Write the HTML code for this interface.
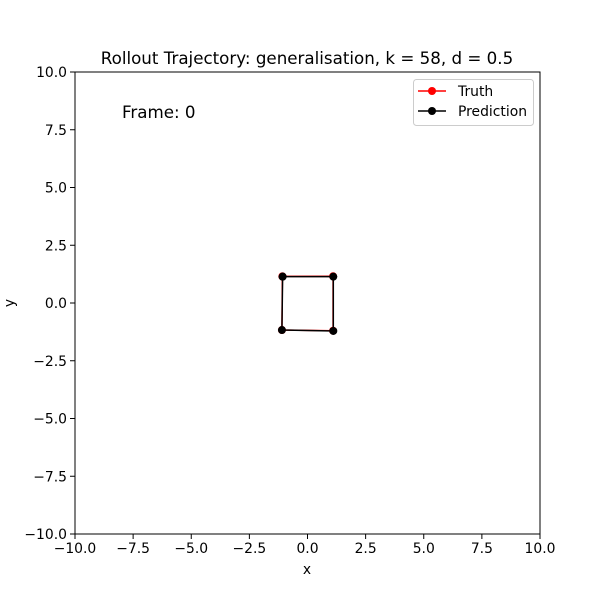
<!DOCTYPE html>
<html><head><meta charset="utf-8"><style>
body{margin:0;background:#fff;font-family:"DejaVu Sans","Liberation Sans",sans-serif;}
svg text{font-family:"DejaVu Sans","Liberation Sans",sans-serif;}
</style></head><body>
<svg id="chart" width="600" height="600" xmlns="http://www.w3.org/2000/svg"></svg>
<script>
const truthX=[-1.08,1.1,1.1,-1.1,-1.08];
const truthY=[1.15,1.16,-1.2,-1.17,1.15];
const predX=[-1.07,1.11,1.11,-1.1,-1.07];
const predY=[1.14,1.14,-1.21,-1.17,1.14];
const ticks=[-10,-7.5,-5,-2.5,0,2.5,5,7.5,10];
const tickLabels=["\u221210.0","\u22127.5","\u22125.0","\u22122.5","0.0","2.5","5.0","7.5","10.0"];
const L=75,R=540,T=72,B=534;
const sx=v=>L+(v+10)/20*(R-L);
const sy=v=>B-(v+10)/20*(B-T);
const svg=document.getElementById('chart');
const NS='http://www.w3.org/2000/svg';
function mk(tag,attrs,parent){const e=document.createElementNS(NS,tag);for(const k in attrs)e.setAttribute(k,attrs[k]);(parent||svg).appendChild(e);return e;}
let t=mk('text',{x:307,y:64,'text-anchor':'middle','font-size':16.7});t.textContent='Rollout Trajectory: generalisation, k = 58, d = 0.5';

ticks.forEach((v,i)=>{
 let g=mk('g',{});
 
 mk('line',{x1:sx(v),x2:sx(v),y1:B,y2:B+5,stroke:'#000'},g);
 let tx=mk('text',{x:sx(v),y:B+19,'text-anchor':'middle','font-size':13.9},g);tx.textContent=tickLabels[i];
 let g2=mk('g',{});
 
 mk('line',{x1:L-5,x2:L,y1:sy(v),y2:sy(v),stroke:'#000'},g2);
 let ty=mk('text',{x:L-8,y:sy(v)+5,'text-anchor':'end','font-size':13.9},g2);ty.textContent=tickLabels[i];
});
let xl=mk('text',{x:307,y:574,'text-anchor':'middle','font-size':13.9});xl.textContent='x';

let yl=mk('text',{x:14,y:303,'text-anchor':'middle','font-size':13.9,transform:'rotate(-90 14 303)'});yl.textContent='y';

let fr=mk('text',{x:122,y:118,'font-size':16.7});fr.textContent='Frame: 0';

function series(xs,ys,color,name){
 let g=mk('g',{});
 
 mk('polyline',{points:xs.map((x,i)=>sx(x)+','+sy(ys[i])).join(' '),fill:'none',stroke:color,'stroke-width':1.5},g);
 xs.forEach((x,i)=>{let c=mk('circle',{cx:sx(x),cy:sy(ys[i]),r:4,fill:color},g);
  });
}
series(truthX,truthY,'#ff0000','truth-series');
series(predX,predY,'#000000','prediction-series');
let frame=mk('rect',{x:L,y:T,width:R-L,height:B-T,fill:'none',stroke:'#000','stroke-width':1});

let lg=mk('g',{});

mk('rect',{x:413.5,y:79.5,width:120,height:46,rx:3,fill:'#fff',stroke:'#ccc'},lg);
[['Truth','#ff0000',91],['Prediction','#000',111]].forEach(([n,c,y])=>{
 let e=mk('g',{},lg);
 
 mk('line',{x1:418,x2:446,y1:y,y2:y,stroke:c,'stroke-width':1.5},e);
 mk('circle',{cx:432,cy:y,r:4,fill:c},e);
 let tt=mk('text',{x:458,y:y+5,'font-size':13.9},e);tt.textContent=n;
});
</script>
</body></html>
